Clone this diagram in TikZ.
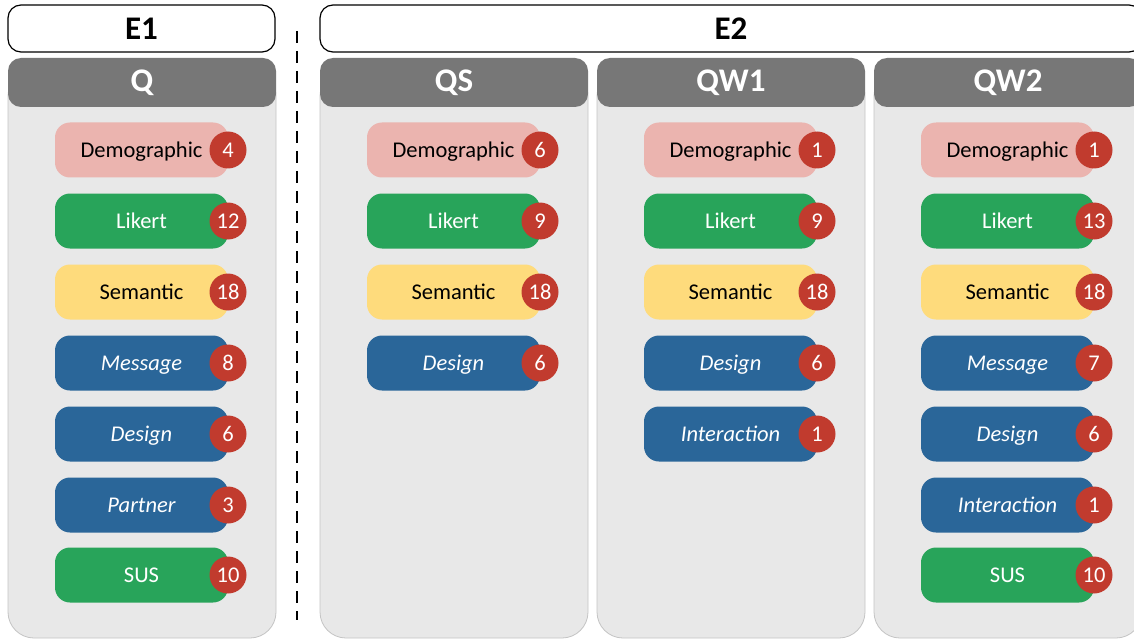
\documentclass[tikz,border=0pt]{standalone}
\usepackage{fontspec}
\setmainfont{Carlito}
\definecolor{panelgray}{HTML}{E8E8E8}
\definecolor{panelline}{HTML}{C4C4C4}
\definecolor{headgray}{HTML}{777777}
\definecolor{demo}{HTML}{EBB4AF}
\definecolor{likert}{HTML}{28A45A}
\definecolor{seman}{HTML}{FEDB7C}
\definecolor{blueitem}{HTML}{2A6699}
\definecolor{badgered}{HTML}{C13B2E}
\tikzset{
  panel/.style={draw=panelline, line width=0.8pt, fill=panelgray, rounded corners=26pt},
  header/.style={fill=headgray, rounded corners=13pt},
  ebox/.style={draw=black, line width=1.2pt, fill=white, rounded corners=13pt},
  pill/.style={rounded corners=15pt, minimum width=173pt, minimum height=55pt, inner sep=0pt, text height=15pt, text depth=0pt, font=\fontsize{22.5}{27}\selectfont},
  demopill/.style={pill, fill=demo, text=black},
  likpill/.style={pill, fill=likert, text=white},
  sempill/.style={pill, fill=seman, text=black},
  bluepill/.style={pill, fill=blueitem, text=white, font=\fontsize{22.5}{27}\selectfont\itshape},
  badge/.style={circle, fill=badgered, minimum size=37pt, inner sep=0pt, text=white, font=\fontsize{22.5}{27}\selectfont},
  htext/.style={font=\fontsize{33}{38}\selectfont\bfseries},
}
\newcommand{\qitem}[6]{% name, style, x-left, y, label, number
  \node[#2] (#1) at (#3+133.5,#4) {#5};
  \node[badge] (#1b) at (#3+220,#4) {#6};
}
\begin{document}
\begin{tikzpicture}[x=1pt,y=-1pt]
\useasboundingbox (0,0) rectangle (1134,639);
\clip (0,0) rectangle (1134,639);
\fill[white] (0,0) rectangle (1134,639);
% E boxes
\draw[ebox] (8,5) rectangle (275,52);
\node[htext] (e1) at (141.5,29) {E1};
\draw[ebox] (320,5) rectangle (1142,52);
\node[htext] (e2) at (731,29) {E2};
% separator
\coordinate (sepa) at (297,31);
\coordinate (sepb) at (297,620);
\draw[line width=2.6pt, dash pattern=on 12pt off 8pt] (sepa) -- (sepb);
% panels
\foreach \nm/\xl/\ttl in {q/8/Q, qs/320/QS, qw1/597/QW1, qw2/874/QW2}{
  \draw[panel] (\xl,70) rectangle (\xl+268,638);
  \fill[header] (\xl,58) rectangle (\xl+268,107);
  \node[htext, text=white] (\nm h) at (\xl+134,83) {\ttl};
}
% Q
\qitem{qa}{demopill}{8}{150}{Demographic}{4}
\qitem{qb}{likpill}{8}{221}{Likert}{12}
\qitem{qc}{sempill}{8}{292}{Semantic}{18}
\qitem{qd}{bluepill}{8}{363}{Message}{8}
\qitem{qe}{bluepill}{8}{434}{Design}{6}
\qitem{qf}{bluepill}{8}{505}{Partner}{3}
\qitem{qg}{likpill}{8}{575}{SUS}{10}
% QS
\qitem{sa}{demopill}{320}{150}{Demographic}{6}
\qitem{sb}{likpill}{320}{221}{Likert}{9}
\qitem{sc}{sempill}{320}{292}{Semantic}{18}
\qitem{sd}{bluepill}{320}{363}{Design}{6}
% QW1
\qitem{wa}{demopill}{597}{150}{Demographic}{1}
\qitem{wb}{likpill}{597}{221}{Likert}{9}
\qitem{wc}{sempill}{597}{292}{Semantic}{18}
\qitem{wd}{bluepill}{597}{363}{Design}{6}
\qitem{we}{bluepill}{597}{434}{Interaction}{1}
% QW2
\qitem{va}{demopill}{874}{150}{Demographic}{1}
\qitem{vb}{likpill}{874}{221}{Likert}{13}
\qitem{vc}{sempill}{874}{292}{Semantic}{18}
\qitem{vd}{bluepill}{874}{363}{Message}{7}
\qitem{ve}{bluepill}{874}{434}{Design}{6}
\qitem{vf}{bluepill}{874}{505}{Interaction}{1}
\qitem{vg}{likpill}{874}{575}{SUS}{10}
\end{tikzpicture}
\end{document}
